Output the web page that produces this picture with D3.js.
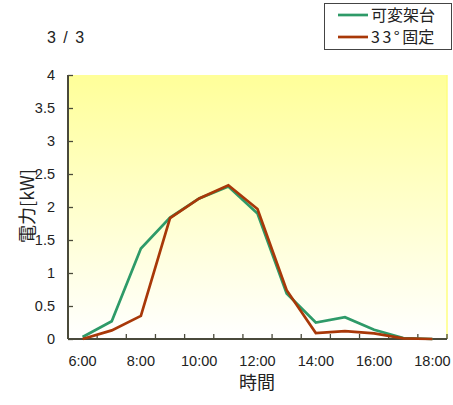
<!DOCTYPE html>
<html><head><meta charset="utf-8">
<script src="https://cdn.jsdelivr.net/npm/d3@7"></script>
<style>body{margin:0;background:#fff}svg{display:block}</style>
</head><body>
<script>
const hours = ["6:00","7:00","8:00","9:00","10:00","11:00","12:00","13:00","14:00","15:00","16:00","17:00","18:00"];
const tickLabels = ["6:00","8:00","10:00","12:00","14:00","16:00","18:00"];
const variableMount = [0.03,0.27,1.37,1.84,2.13,2.31,1.90,0.69,0.25,0.33,0.14,0.015,0];
const fixed33 = [0,0.13,0.35,1.83,2.13,2.33,1.97,0.74,0.09,0.12,0.085,0.01,0];
const yTicks = [0,0.5,1,1.5,2,2.5,3,3.5,4];
const seriesNames = [["可変架台",""],["33°","固定"]];
const seriesColors = ["#2e9a68","#a83808"];

const W=453,H=405;
const m={l:68,r:6,t:75,b:66};
const svg=d3.select("body").append("svg").attr("width",W).attr("height",H);
const defs=svg.append("defs");
const grad=defs.append("linearGradient").attr("id","bg").attr("x1",0).attr("y1",0).attr("x2",0).attr("y2",1);
grad.append("stop").attr("offset","0%").attr("stop-color","#ffff99");
grad.append("stop").attr("offset","100%").attr("stop-color","#ffffff");

const x=d3.scaleBand().domain(hours).range([m.l,W-m.r]);
const y=d3.scaleLinear().domain([0,4]).range([H-m.b,m.t]);
const x0=m.l,x1=W-m.r,y0=H-m.b,y1=m.t;

svg.append("rect").attr("x",x0).attr("y",y1).attr("width",x1-x0).attr("height",y0-y1).attr("fill","url(#bg)");
svg.append("line").attr("x1",x1).attr("x2",x1).attr("y1",y1).attr("y2",y0).attr("stroke","#ffff80").attr("stroke-width",1.5);

const axisColor="#4a4a3a";
const ya=svg.append("g").attr("transform",`translate(${x0},0)`)
  .call(d3.axisLeft(y).tickValues(yTicks).tickSize(-5).tickPadding(13).tickFormat(d=>d));
ya.select(".domain").attr("stroke",axisColor).attr("stroke-width",2).attr("d",`M0,${y1}V${y0}`);
ya.selectAll(".tick line").attr("stroke",axisColor).attr("stroke-width",1.3);
ya.selectAll("text").attr("font-family","Liberation Sans, Arial, sans-serif").attr("font-size",14.5).attr("fill","#222");

const xa=svg.append("g").attr("transform",`translate(0,${y0})`);
xa.append("line").attr("x1",x0).attr("x2",x1).attr("stroke",axisColor).attr("stroke-width",2);
const bounds=hours.map(h=>x(h)).concat([x1]).slice(1);
xa.selectAll(".tk").data(bounds).join("line").attr("class","tk")
  .attr("x1",d=>d).attr("x2",d=>d).attr("y1",0).attr("y2",-5).attr("stroke",axisColor).attr("stroke-width",1.3);
xa.selectAll(".lb").data(tickLabels).join("text").attr("class","lb")
  .attr("x",d=>x(d)+x.bandwidth()/2).attr("y",27).attr("text-anchor","middle")
  .attr("font-family","Liberation Sans, Arial, sans-serif").attr("font-size",14.5).attr("fill","#222").text(d=>d);

const line=d3.line().x((d,i)=>x(hours[i])+x.bandwidth()/2).y(d=>y(d));
[variableMount,fixed33].forEach((s,i)=>{
  svg.append("path").datum(s).attr("d",line).attr("fill","none")
    .attr("stroke",seriesColors[i]).attr("stroke-width",2.7).attr("stroke-linejoin","miter");
});

svg.append("text").attr("x",257).attr("y",389).attr("text-anchor","middle")
  .attr("font-family","Noto Sans CJK JP, sans-serif").attr("font-size",18).attr("fill","#222").text("時間");
svg.append("text").attr("transform","translate(34,206) rotate(-90)").attr("text-anchor","middle")
  .attr("font-family","Noto Sans CJK JP, sans-serif").attr("font-size",18).attr("fill","#222").text("電力[kW]");

svg.append("text").attr("x",47).attr("y",43).attr("letter-spacing",1.5)
  .attr("font-family","Liberation Sans, Arial, sans-serif").attr("font-size",16).attr("fill","#222").text("3 / 3");

const lg=svg.append("g");
lg.append("rect").attr("x",324.5).attr("y",3.5).attr("width",127).attr("height",46)
  .attr("fill","#fff").attr("stroke","#444").attr("stroke-width",1);
seriesNames.forEach((n,i)=>{
  const yy=15+i*22;
  lg.append("line").attr("x1",338).attr("x2",368).attr("y1",yy).attr("y2",yy)
    .attr("stroke",seriesColors[i]).attr("stroke-width",2.7);
  const t=lg.append("text").attr("x",371).attr("y",yy+6)
    .attr("font-family","Noto Sans CJK JP, sans-serif").attr("font-size",16).attr("fill","#222");
  t.append("tspan").attr("letter-spacing", n[1] ? 2.5 : 0).text(n[0]);
  if(n[1]) t.append("tspan").text(n[1]);
});
</script>
</body></html>
